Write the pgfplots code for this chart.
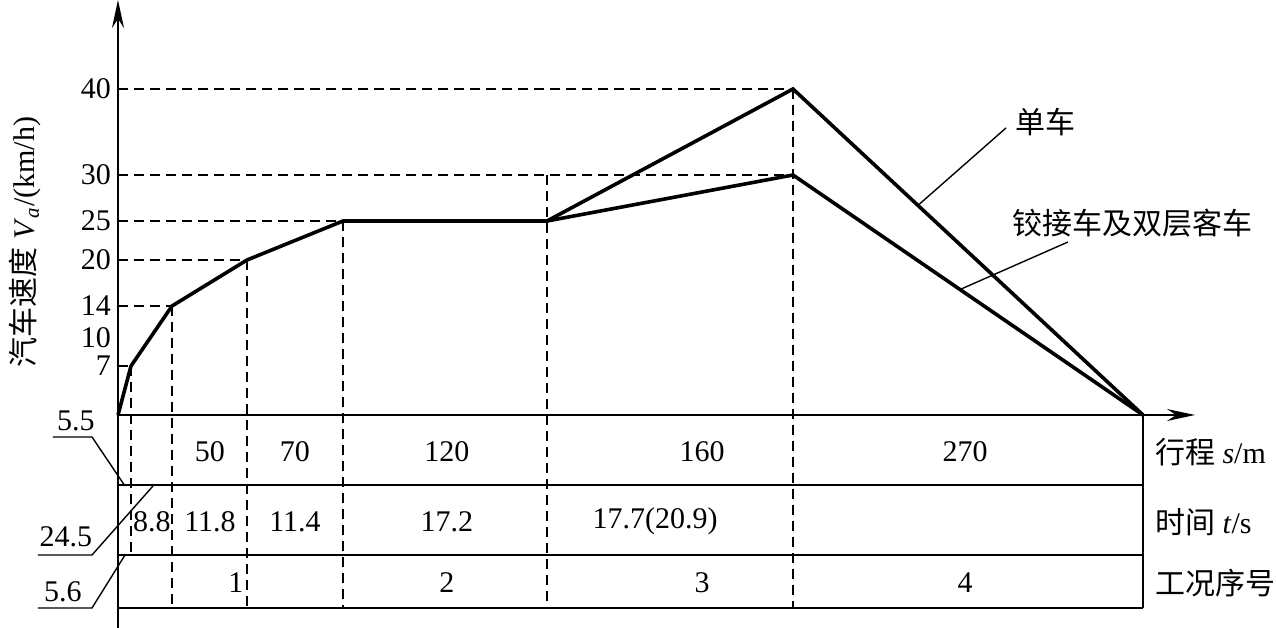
\documentclass[border=0pt]{standalone}
\usepackage{pgfplots}
\pgfplotsset{compat=1.18}
\usepackage{fontspec}
\setmainfont{Liberation Serif}
\newfontfamily\cjk{Noto Sans CJK SC}
\usetikzlibrary{arrows.meta}
\begin{document}
\begin{tikzpicture}[font=\fontsize{15}{18}\selectfont]
\begin{axis}[x=0.5pt,y=0.5pt,
  % the original drawing's speed axis is not quite linear: piecewise mapping through the tick positions
  y coord trafo/.code={\pgfmathparse{(#1)<=0 ? 8.15*(#1) : ((#1)<=7 ? 7*(#1) : ((#1)<=10 ? 49+((#1)-7)*28/3 : ((#1)<=14 ? 77+((#1)-10)*8 : ((#1)<=20 ? 109+((#1)-14)*46/6 : ((#1)<=25 ? 155+((#1)-20)*7.8 : ((#1)<=30 ? 194+((#1)-25)*9.2 : ((#1)<=40 ? 240+((#1)-30)*8.6 : 326+((#1)-40)*8.15)))))))}},
  xmin=0,xmax=1077,ymin=-26.13,ymax=50.92,
  axis x line=none, axis y line=left,
  y axis line style={line width=1pt,-{Stealth[length=14pt,width=6pt]}},
  ytick={7,10,14,20,25,30,40}, yticklabels={7,10,14,20,25,30,40},
  major tick length=0pt,
  yticklabel style={font=\fontsize{15}{18}\selectfont},
  clip=false]
% guide lines
\addplot[black,line width=0.9pt,dash pattern=on 5pt off 3pt] coordinates {(0,40)(675,40)};
\addplot[black,line width=0.9pt,dash pattern=on 5pt off 3pt] coordinates {(0,30)(675,30)};
\addplot[black,line width=0.9pt,dash pattern=on 5pt off 3pt] coordinates {(0,25)(225,25)};
\addplot[black,line width=0.9pt,dash pattern=on 5pt off 3pt] coordinates {(0,20)(129,20)};
\addplot[black,line width=0.9pt,dash pattern=on 5pt off 3pt] coordinates {(0,14)(54,14)};
\addplot[black,line width=0.9pt,dash pattern=on 5pt off 3pt] coordinates {(0,7)(13,7)};
\addplot[black,line width=0.9pt,dash pattern=on 5pt off 3pt] coordinates {(13,7)(13,-17.18)};
\addplot[black,line width=0.9pt,dash pattern=on 5pt off 3pt] coordinates {(54,14)(54,-23.68)};
\addplot[black,line width=0.9pt,dash pattern=on 5pt off 3pt] coordinates {(129,20)(129,-23.68)};
\addplot[black,line width=0.9pt,dash pattern=on 5pt off 3pt] coordinates {(225,25)(225,-23.68)};
\addplot[black,line width=0.9pt,dash pattern=on 5pt off 3pt] coordinates {(429,30)(429,-23.68)};
\addplot[black,line width=0.9pt,dash pattern=on 5pt off 3pt] coordinates {(675,40)(675,-23.68)};
% curves
\addplot[black,line width=1.8pt,line join=miter] coordinates {(0,0)(13,7)(54,14)(129,20)(225,25)(429,25)(675,40)(1025,0)};
\addplot[black,line width=1.8pt,line join=miter] coordinates {(429,25)(675,30)(1025,0)};
% x axis
\draw[line width=1pt,-{Stealth[length=14pt,width=6pt]}] (axis cs:0,0) -- (axis cs:1077,0);
% table
\draw[line width=1pt] (axis cs:0,-8.59) -- (axis cs:1025,-8.59);
\draw[line width=1pt] (axis cs:0,-17.18) -- (axis cs:1025,-17.18);
\draw[line width=1pt] (axis cs:0,-23.68) -- (axis cs:1025,-23.68);
\draw[line width=1pt] (axis cs:1025,0) -- (axis cs:1025,-23.68);
\node at (axis cs:92,-4.54) {50};
\node at (axis cs:177,-4.54) {70};
\node at (axis cs:329,-4.54) {120};
\node at (axis cs:584,-4.54) {160};
\node at (axis cs:847,-4.54) {270};
\node[anchor=west] at (axis cs:1030,-4.54) {{\cjk 行程} \textit{s}/m};
\node at (axis cs:34,-13.1) {8.8};
\node at (axis cs:92,-13.1) {11.8};
\node at (axis cs:177,-13.1) {11.4};
\node at (axis cs:329,-13.1) {17.2};
\node at (axis cs:537,-13.1) {17.7(20.9)};
\node[anchor=west] at (axis cs:1030,-13.1) {{\cjk 时间} \textit{t}/s};
\node at (axis cs:118,-20.6) {1};
\node at (axis cs:329,-20.6) {2};
\node at (axis cs:584,-20.6) {3};
\node at (axis cs:847,-20.6) {4};
\node[anchor=west] at (axis cs:1030,-20.6) {\cjk 工况序号};
% left leaders
\node at (axis cs:-42,-0.74) {5.5};
\draw[line width=0.7pt] (axis cs:-65,-2.70) -- (axis cs:-26,-2.70) -- (axis cs:7,-8.71);
\node at (axis cs:-52,-14.97) {24.5};
\draw[line width=0.7pt] (axis cs:-80,-17.18) -- (axis cs:-26,-17.18) -- (axis cs:35,-8.71);
\node at (axis cs:-55,-21.7) {5.6};
\draw[line width=0.7pt] (axis cs:-80,-23.68) -- (axis cs:-26,-23.68) -- (axis cs:7,-17.18);
% annotations
\node at (axis cs:927,36.16) {\cjk 单车};
\draw[line width=0.7pt] (axis cs:888,35.47) -- (axis cs:800,26.7);
\node at (axis cs:1014,24.74) {\cjk 铰接车及双层客车};
\draw[line width=0.7pt] (axis cs:950,22.31) -- (axis cs:842,16.15);
% y label
\node[rotate=90] at (axis cs:-93,22.31) {{\cjk 汽车速度} \textit{V}\textsubscript{\textit{a}}/(km/h)};
\coordinate (BL) at (axis cs:-118,-26.13);
\coordinate (TR) at (axis cs:1158,50.92);
\end{axis}
\pgfresetboundingbox
\path (BL) rectangle (TR);
\end{tikzpicture}
\end{document}
